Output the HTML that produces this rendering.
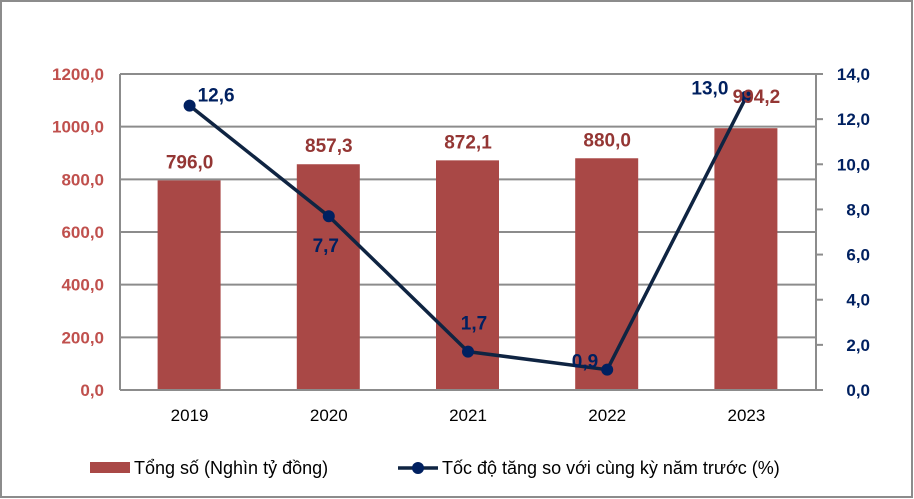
<!DOCTYPE html>
<html><head><meta charset="utf-8"><style>
body{margin:0;background:#fff;}
svg{display:block;font-family:"Liberation Sans",Arial,sans-serif;}
</style></head><body>
<svg id="chart" width="914" height="499" viewBox="0 0 914 499">
<rect x="1" y="1" width="911" height="496" fill="#fff" stroke="#8c8c8c" stroke-width="2"/>
<g id="grid"></g><g id="bars"></g><g id="axes"></g><g id="line"></g><g id="labels"></g>
<g>
<rect x="90" y="462" width="40" height="11" fill="#A94846"/>
<text x="134" y="474" font-size="18" fill="#000">Tổng số (Nghìn tỷ đồng)</text>
<line x1="398" y1="468" x2="438" y2="468" stroke="#0F2442" stroke-width="3.5"/>
<circle cx="418" cy="468" r="6" fill="#002060"/>
<text x="442" y="474" font-size="18" fill="#000">Tốc độ tăng so với cùng kỳ năm trước (%)</text>
</g>
</svg>
<script>
const categories=["2019","2020","2021","2022","2023"];
const totals=[796.0,857.3,872.1,880.0,994.2];
const growth=[12.6,7.7,1.7,0.9,13.0];
const leftTicks=[0,200,400,600,800,1000,1200];
const rightTicks=[0,2,4,6,8,10,12,14];
const NS="http://www.w3.org/2000/svg";
const X0=120,X1=816,Y0=390,Y1=74;
const cw=(X1-X0)/categories.length;
const xc=i=>X0+cw*(i+0.5);
const yL=v=>Y0-(v/1200)*(Y0-Y1);
const yR=v=>Y0-(v/14)*(Y0-Y1);
const fmt=v=>v.toFixed(1).replace('.',',');
function mk(tag,attrs,parent,txt){const e=document.createElementNS(NS,tag);for(const k in attrs)e.setAttribute(k,attrs[k]);if(txt!==undefined)e.textContent=txt;document.getElementById(parent).appendChild(e);return e;}
leftTicks.forEach(t=>{
 if(t>0){const g=mk('line',{x1:X0,x2:X1,y1:yL(t),y2:yL(t),stroke:'#8c8c8c','stroke-width':2},'grid');
 
 }
 const l=mk('text',{x:104,y:yL(t)+6,'text-anchor':'end','font-size':17,'font-weight':'bold',fill:'#C0504D'},'axes',fmt(t));
 
 
});
rightTicks.forEach(t=>{
 const tk=mk('line',{x1:X1,x2:X1+7,y1:yR(t),y2:yR(t),stroke:'#8c8c8c','stroke-width':2},'axes');
 
 
 const l=mk('text',{x:870,y:yR(t)+6,'text-anchor':'end','font-size':17,'font-weight':'bold',fill:'#002060'},'axes',fmt(t));
 
 
});
let a=mk('line',{x1:X0,x2:X0,y1:Y1,y2:Y0,stroke:'#8c8c8c','stroke-width':2},'axes');


a=mk('line',{x1:X1,x2:X1,y1:Y1,y2:Y0,stroke:'#8c8c8c','stroke-width':2},'axes');


a=mk('line',{x1:X0,x2:X1,y1:Y0,y2:Y0,stroke:'#8c8c8c','stroke-width':2},'axes');


categories.forEach((c,i)=>{
 const b=mk('rect',{x:xc(i)-32,y:yL(totals[i]),width:63,height:Y0-yL(totals[i]),fill:'#A94846'},'bars');
 
 
 const xl=mk('text',{x:xc(i),y:421,'text-anchor':'middle','font-size':17,fill:'#000'},'axes',c);
 
 
 const bx=i===4?xc(i)+10:xc(i), by=i===4?yL(totals[i])-25:yL(totals[i])-12;
 const bl=mk('text',{x:bx,y:by,'text-anchor':'middle','font-size':19,'font-weight':'bold',fill:'#943634'},'labels',fmt(totals[i]));
 
 
});
const pts=growth.map((v,i)=>xc(i)+','+yR(v)).join(' ');
const pl=mk('polyline',{points:pts,fill:'none',stroke:'#0F2442','stroke-width':3.5,'stroke-linejoin':'round'},'line');


const off=[[8,-4,'start'],[-3,36,'middle'],[6,-22,'middle'],[-9,-2,'end'],[-18,-2,'end']];
growth.forEach((v,i)=>{
 const c=mk('circle',{cx:xc(i),cy:yR(v),r:6,fill:'#002060'},'line');
 
 
 const l=mk('text',{x:xc(i)+off[i][0],y:yR(v)+off[i][1],'text-anchor':off[i][2],'font-size':19,'font-weight':'bold',fill:'#002060'},'labels',fmt(v));
 
 
});
</script>
</body></html>
